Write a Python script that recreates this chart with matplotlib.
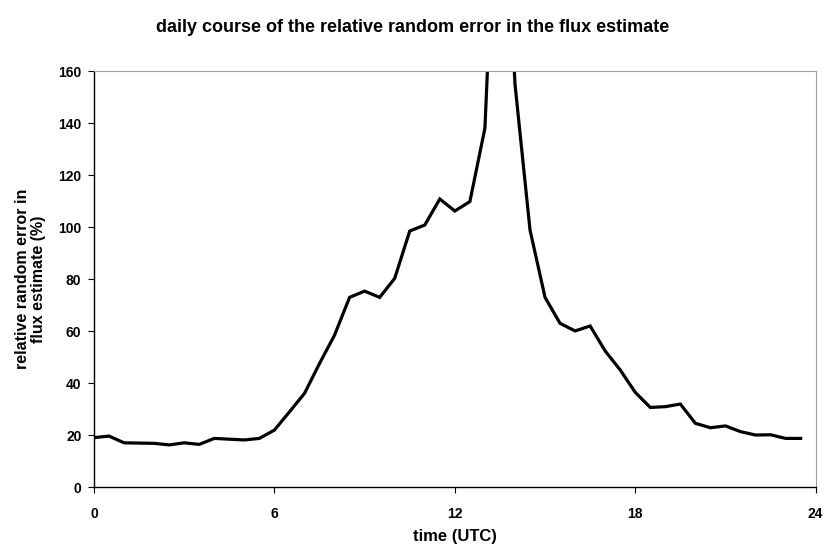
import matplotlib.pyplot as plt

plt.rcParams['font.family'] = ['Liberation Sans', 'DejaVu Sans']
plt.rcParams['font.weight'] = 'bold'

# half-hourly values, 0:00 to 23:30 UTC
hours = [i * 0.5 for i in range(48)]
rel_error = [19.1, 19.7, 17.1, 17.0, 16.9, 16.3, 17.1, 16.5,
             18.8, 18.5, 18.2, 18.8, 22.0, 29.0, 36.1, 47.6,
             58.5, 73.0, 75.4, 73.0, 80.3, 98.5, 100.8, 110.8,
             106.2, 109.8, 138.0, 270.0, 155.0, 98.9, 73.0, 63.0,
             60.1, 62.0, 52.4, 45.1, 36.5, 30.7, 31.0, 32.0,
             24.6, 22.9, 23.6, 21.4, 20.1, 20.2, 18.8, 18.8]
xticks = [0, 6, 12, 18, 24]
yticks = [0, 20, 40, 60, 80, 100, 120, 140, 160]

fig = plt.figure(figsize=(8.26, 5.47), dpi=100)
ax = fig.add_axes([0.1138, 0.1091, 0.8737, 0.7611])

ax.plot(hours, rel_error, color='black', lw=2.3, solid_joinstyle='miter')

ax.set_xlim(0, 24)
ax.set_ylim(0, 160)
ax.set_xticks(xticks)
ax.set_yticks(yticks)
ax.tick_params(direction='out', length=4, width=0.8, labelsize=10)
ax.tick_params(axis='x', pad=10)
ax.tick_params(axis='y', pad=5)

for side in ['top', 'right']:
    ax.spines[side].set_color('#a0a0a0')
    ax.spines[side].set_linewidth(0.8)
for side in ['left', 'bottom']:
    ax.spines[side].set_linewidth(1.0)

ax.set_xlabel('time (UTC)', fontsize=12, fontweight='bold', labelpad=6)
ax.set_ylabel('relative random error in\nflux estimate (%)', fontsize=11.5,
              fontweight='bold', labelpad=9, linespacing=1.1)
fig.suptitle('daily course of the relative random error in the flux estimate',
             fontsize=13, fontweight='bold', y=1 - 19 / 547, va='top')

fig.savefig('out.png', dpi=100)
